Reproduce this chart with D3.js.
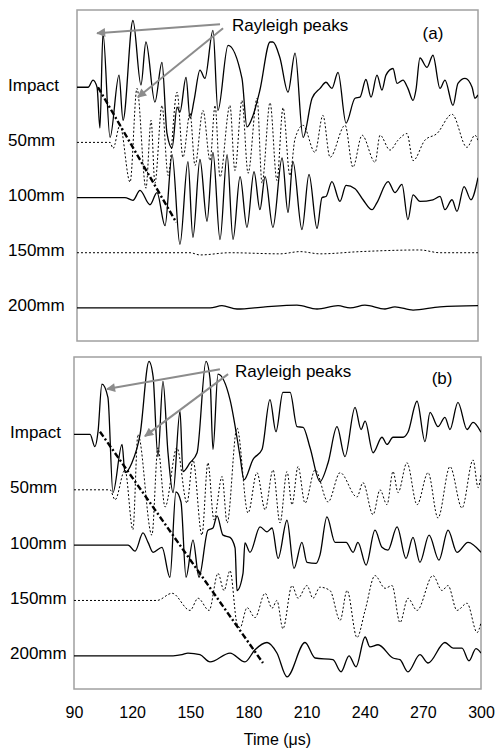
<!DOCTYPE html>
<html>
<head>
<meta charset="utf-8">
<script src="https://cdn.jsdelivr.net/npm/d3@7"></script>
<style>
body { margin: 0; background: #fff; }
text { font-family: Arial, "Liberation Sans", sans-serif; fill: #000; }
</style>
</head>
<body>
<div id="chart"></div>
<script>
const width = 496
const height = 751

const xTicks = [90, 120, 150, 180, 210, 240, 270, 300]
const traceLabels = ["Impact", "50mm", "100mm", "150mm", "200mm"]
const traceOffsets = [4, 3, 2, 1, 0]
const traceDotted = [false, true, false, true, false]

// panel (a) signals: [time (us), amplitude]
const aImpact = [[90,0],[95.8,0],[98.4,0.13],[100.5,0],[102,-0.74],[103.6,0.98],[107.3,-0.91],[112,0.22],[114.1,-0.6],[119.3,1.21],[123.5,0.04],[126.1,0.82],[130.8,-0.27],[134.5,0.45],[137.1,-0.83],[139.8,-1.1],[142.4,-0.36],[143.9,-0.45],[147.1,0.18],[149.2,-0.56],[151.3,-0.24],[154.4,0.31],[157,0.16],[161.2,1.03],[163.8,-0.42],[169.1,0.76],[176.4,0.16],[179,-0.72],[182.2,-0.51],[185.8,-0.05],[191.1,0.82],[192.6,0.82],[196.3,0.53],[200.5,-0.09],[204.2,0.62],[208.4,-0.91],[213.1,-0.2],[217.3,-0.02],[220.4,0.09],[223.5,-0.02],[226.7,0.27],[230.9,-0.65],[235.6,-0.2],[238.2,-0.18],[241.3,0.14],[244,-0.18],[247.1,0.22],[249.7,-0.05],[251.8,0.22],[255.5,0.34],[257.6,0.07],[260.7,0.13],[263.3,-0.02],[266,-0.24],[267.5,-0.05],[269.6,0.53],[273.3,0.36],[276.4,0.58],[280.1,-0.02],[282.7,0.13],[286.9,-0.33],[289.5,0.07],[293.2,0.16],[296.9,0],[298.4,-0.2],[300,-0.14]]
const a50 = [[90,0],[107.3,0],[108.9,-0.11],[112.5,0.31],[117.8,-0.72],[121.4,0.98],[126.1,-0.83],[128.8,0.4],[130.8,-0.74],[134.5,0.67],[137.7,-0.6],[142.4,0.91],[145.5,-0.27],[149.2,0.53],[151.8,-0.42],[156,0.58],[159.7,-0.33],[162.3,0.67],[164.9,-0.63],[170.1,0.67],[172.7,-0.51],[176.4,0.76],[179.6,-0.56],[184.3,0.8],[186.9,-0.74],[191.1,0.72],[194.7,-0.69],[197.9,0.63],[201.5,-0.6],[204.2,0.07],[208.4,0.31],[214.6,-0.18],[218.8,0.49],[222.5,-0.27],[230.4,0.31],[234.5,-0.45],[239.3,0.13],[246.1,-0.36],[248.7,0.13],[253.9,-0.14],[258.1,0.04],[262.8,0.16],[266,-0.33],[272.2,0.04],[278.5,0.16],[286.4,0.51],[294.2,-0.09],[298.4,0.13],[300,0.04]]
const a100 = [[90,0],[115.1,0],[119.3,-0.05],[123,0.13],[128.2,-0.13],[131.9,0.09],[136.1,-0.51],[139.8,0.78],[143.9,-0.85],[148.1,0.65],[150.7,-0.72],[154.4,0.69],[158.1,-0.43],[161.2,0.82],[164.9,-0.76],[168.6,0.78],[171.7,-0.76],[175.4,0.38],[179,-0.54],[182.7,0.47],[185.8,-0.22],[188.5,0.38],[192.6,-0.54],[197.4,0.72],[200.5,-0.27],[203.1,0.65],[207.8,-0.58],[211.5,0.42],[215.7,-0.56],[218.3,0],[220.4,0.02],[223.5,0.29],[227.7,-0.07],[230.9,0.22],[235.6,0.16],[239.8,-0.04],[244.5,-0.22],[247.1,-0.09],[252.9,0.29],[256.5,0.09],[260.2,0.24],[263.3,-0.4],[266,0.05],[269.6,-0.07],[276.4,-0.04],[280.1,0.02],[282.7,-0.22],[286.4,-0.04],[289,-0.25],[292.7,0.2],[296.3,-0.04],[300,0.36]]
const a150 = [[90,0],[149.2,0],[154.4,-0.04],[170.1,0],[196.3,-0.02],[206.8,0.02],[217.3,-0.02],[238.2,0.02],[269.6,0.05],[280.1,0],[300,0]]
const a200 = [[90,0],[159.7,0],[165.9,0.04],[173.8,-0.02],[188.5,0.02],[205.2,0.05],[215.7,-0.02],[226.7,0.04],[233,0],[240.8,0.05],[251.3,-0.02],[256.5,0.02],[266,-0.04],[280.1,0.02],[300,0.04]]

// panel (b) signals: [time (us), amplitude]
const bImpact = [[90,0],[98.3,0],[100.8,-0.22],[102.4,0.05],[104.4,0.91],[107.5,0.67],[110.1,-1.05],[114.8,-0.18],[116.3,-0.69],[119.9,-0.51],[124.1,0],[128.7,1.32],[130.8,1.05],[133.3,-0.4],[135.9,0.96],[138.5,-0.33],[141.1,-1.05],[144.7,0.42],[146.2,-0.67],[149.9,-0.51],[153.5,-0.33],[158.1,1.32],[160.2,1],[161.7,-0.27],[164.3,1.09],[170.5,0.63],[175.7,-0.4],[177.7,-0.82],[182.4,-0.45],[187,-0.27],[191.1,0.63],[194.2,0.05],[197.8,0.76],[201.5,0.76],[205.1,0.14],[208.2,0.13],[211.8,-0.24],[216.9,-0.85],[221.1,-0.51],[225.7,0.14],[229.8,-0.4],[235,0.49],[238.1,0.09],[240.2,0.24],[244.3,-0.33],[248.9,-0.05],[251.5,-0.18],[254.6,-0.05],[259.8,-0.05],[262.3,0.04],[267,0.6],[271.1,-0.13],[273.7,0.4],[277.8,0.14],[281.4,0.31],[284,0.09],[288.1,0.58],[292.8,0.09],[295.9,0.22],[300,0.04]]
const b50 = [[90,0],[108.6,0],[111.2,-0.18],[116.3,0.36],[120.4,-0.72],[123,1],[130.2,-0.82],[133.3,0.76],[137,-0.31],[143.1,0.76],[148.3,-0.24],[151.4,0.54],[156,-0.82],[159.1,0.49],[162.2,-0.54],[166.4,0.24],[169,-0.6],[174.1,1.12],[179.8,-0.42],[184.4,0.31],[188.6,-0.36],[192.7,0.36],[196.3,-0.6],[199.9,0.33],[202.5,-0.27],[205.6,0.42],[209.2,-0.24],[214.4,0.36],[221.1,-0.22],[227.3,0.31],[236,-0.13],[239.1,0.13],[244.3,-0.45],[247.9,0],[251.5,-0.27],[254.6,0.33],[257.2,-0.05],[261.8,0.49],[267,-0.27],[272.7,0.31],[277.8,-0.51],[284,0.42],[290.2,-0.33],[295.9,0.54],[298.5,0.04],[300,0.27]]
const b100 = [[90,0],[117.9,0],[121.5,-0.11],[125.6,0.22],[128.2,0.05],[130.8,-0.13],[135.4,-0.04],[139.5,-0.58],[142.6,0.96],[145.2,0.78],[147.8,-0.58],[151.4,0.09],[154.5,-0.58],[159.1,0.27],[161.7,0.31],[163.8,0.53],[166.9,0.18],[170.5,0.14],[173.1,-0.05],[174.1,-0.82],[177.2,-0.51],[178.2,0.04],[180.8,-0.13],[186,0.33],[189.6,0.24],[192.2,0.31],[195.3,-0.24],[199.9,0.45],[203.5,-0.42],[207.6,0.05],[210.2,-0.31],[214.9,-0.33],[216.9,-0.18],[220.5,0.51],[224.7,0.05],[230.4,0.05],[234,-0.13],[236.5,0.05],[240.7,-0.36],[245.3,0.27],[248.9,-0.04],[252,-0.09],[256.7,0.33],[261.3,-0.24],[264.9,0.14],[268.5,-0.31],[273.2,0.18],[278.3,-0.27],[283,0.27],[287.6,-0.13],[293.3,0.05],[300,-0.13]]
const b150 = [[90,0],[132.8,0],[140.6,0.13],[149.9,-0.18],[154,0.04],[159.7,-0.18],[164.3,0.49],[167.4,0.18],[170.5,0.54],[174.1,-0.42],[175.7,-0.49],[179.3,-0.13],[183.4,-0.31],[188.6,0.13],[192.2,-0.14],[194.7,0],[197.8,-0.51],[202.5,0.27],[205.6,0.04],[210.2,0.27],[213.3,0.04],[216.9,0.24],[222.1,0.18],[227.3,-0.36],[230.9,0.18],[236,-0.67],[240.2,-0.18],[245.3,0.45],[250.5,0.22],[254.1,0.27],[258.2,-0.4],[262.3,0.04],[267,-0.18],[275.2,0.45],[279.9,0.18],[283,0.27],[287.6,-0.18],[292.8,-0.05],[298,-0.58],[300,-0.4]]
const b200 = [[90,0],[141.1,0],[145.7,0.02],[148.8,0.05],[155,0.02],[160.2,-0.11],[170.5,0.05],[178.2,-0.11],[183.4,0.11],[189.6,0.24],[194.7,0.05],[199.9,-0.38],[209.2,0.24],[214.4,-0.04],[223.6,-0.07],[227.8,-0.29],[231.9,0],[235.5,-0.2],[240.2,0.34],[242.7,0.16],[246.9,0.2],[254.6,-0.04],[258.2,-0.07],[262.3,-0.29],[268.5,0.02],[272.7,-0.13],[281.4,0.24],[285.6,0.14],[290.2,0.14],[293.8,-0.09],[297.4,0.13],[300,0.05]]

// dash-dot arrival line and the "Rayleigh peaks" arrows (time, level)
const aGuide = [[101, 4.0], [142, 1.55]]
const bGuide = [[103.4, 4.05], [187.5, -0.13]]
const aArrows = [[164.9, 5.14, 100.5, 4.98], [166.5, 5.07, 121.9, 3.82]]
const bArrows = [[165.3, 5.18, 107, 4.82], [169.5, 5.09, 126.6, 3.97]]
const aNote = [171.2, 5.02, 276.4, 4.87]
const bNote = [173.1, 5.03, 279.9, 4.91]

const panels = [
    {id: "a", tag: "(a)", box: [77, 10, 478, 341], traces: [aImpact, a50, a100, a150, a200], guide: aGuide, arrows: aArrows, note: aNote, labelX: 8},
    {id: "b", tag: "(b)", box: [74, 357, 481, 689], traces: [bImpact, b50, b100, b150, b200], guide: bGuide, arrows: bArrows, note: bNote, labelX: 10}
]

const svg = d3.select("#chart")
    .append("svg")
    .attr("width", width)
    .attr("height", height)

const defs = svg.append("defs")
defs.append("marker")
    .attr("id", "head")
    .attr("viewBox", "0 0 10 10")
    .attr("refX", 9)
    .attr("refY", 5)
    .attr("markerWidth", 5.5)
    .attr("markerHeight", 4.5)
    .attr("orient", "auto")
    .append("path")
    .attr("d", "M0,0 L10,5 L0,10 Z")
    .attr("fill", "#8c8c8c")

let lastX
panels.forEach(p => {
    const [x0, y0, x1, y1] = p.box
    const x = d3.scaleLinear().domain([90, 300]).range([x0, x1])
    const y = d3.scaleLinear().domain([-0.6, 5.4]).range([y1, y0])
    lastX = x

    defs.append("clipPath").attr("id", "clip-" + p.id)
        .append("rect")
        .attr("x", x0).attr("y", y0)
        .attr("width", x1 - x0).attr("height", y1 - y0)

    const g = svg.append("g")

    g.append("rect")
        .attr("x", x0).attr("y", y0)
        .attr("width", x1 - x0).attr("height", y1 - y0)
        .attr("fill", "#fff")
        .attr("stroke", "#a0a0a0")
        .attr("stroke-width", 1.5)

    const plot = g.append("g").attr("clip-path", `url(#clip-${p.id})`)

    p.traces.forEach((tr, i) => {
        const line = d3.line()
            .x(d => x(d[0]))
            .y(d => y(traceOffsets[i] + d[1]))
            .curve(d3.curveMonotoneX)
        plot.append("path")
            .datum(tr)
            .attr("d", line)
            .attr("fill", "none")
            .attr("stroke", "#000")
            .attr("stroke-width", traceDotted[i] ? 1 : 1.3)
            .attr("stroke-dasharray", traceDotted[i] ? "2,2" : null)
    })

    plot.append("path")
        .datum(p.guide)
        .attr("d", d3.line().x(d => x(d[0])).y(d => y(d[1])))
        .attr("fill", "none")
        .attr("stroke", "#000")
        .attr("stroke-width", 2.4)
        .attr("stroke-dasharray", "6,2.5,2,2.5")

    g.selectAll(".arrow")
        .data(p.arrows)
        .join("line")
        .attr("x1", d => x(d[0])).attr("y1", d => y(d[1]))
        .attr("x2", d => x(d[2])).attr("y2", d => y(d[3]))
        .attr("stroke", "#8c8c8c")
        .attr("stroke-width", 2)
        .attr("marker-end", "url(#head)")

    g.append("text")
        .attr("x", x(p.note[0])).attr("y", y(p.note[1]))
        .attr("font-size", 17)
        .text("Rayleigh peaks")

    g.append("text")
        .attr("x", x(p.note[2])).attr("y", y(p.note[3]))
        .attr("text-anchor", "middle")
        .attr("font-size", 17)
        .text(p.tag)

    g.selectAll(".lab")
        .data(traceLabels)
        .join("text")
        .attr("x", p.labelX)
        .attr("y", (d, i) => y(traceOffsets[i]) - 2)
        .attr("dominant-baseline", "central")
        .attr("font-size", 17)
        .text(d => d)
})

// time axis under panel (b)
const axis = svg.append("g")
    .attr("transform", `translate(0,${panels[1].box[3]})`)
    .call(d3.axisBottom(lastX).tickValues(xTicks).tickSize(0).tickPadding(18))
axis.select(".domain").remove()
axis.selectAll("text")
    .attr("font-size", 16)
    .attr("font-family", "Arial, 'Liberation Sans', sans-serif")
    .attr("fill", "#000")

svg.append("text")
    .attr("x", (panels[1].box[0] + panels[1].box[2]) / 2)
    .attr("y", 745)
    .attr("text-anchor", "middle")
    .attr("font-size", 16)
    .text("Time (μs)")
</script>
</body>
</html>
